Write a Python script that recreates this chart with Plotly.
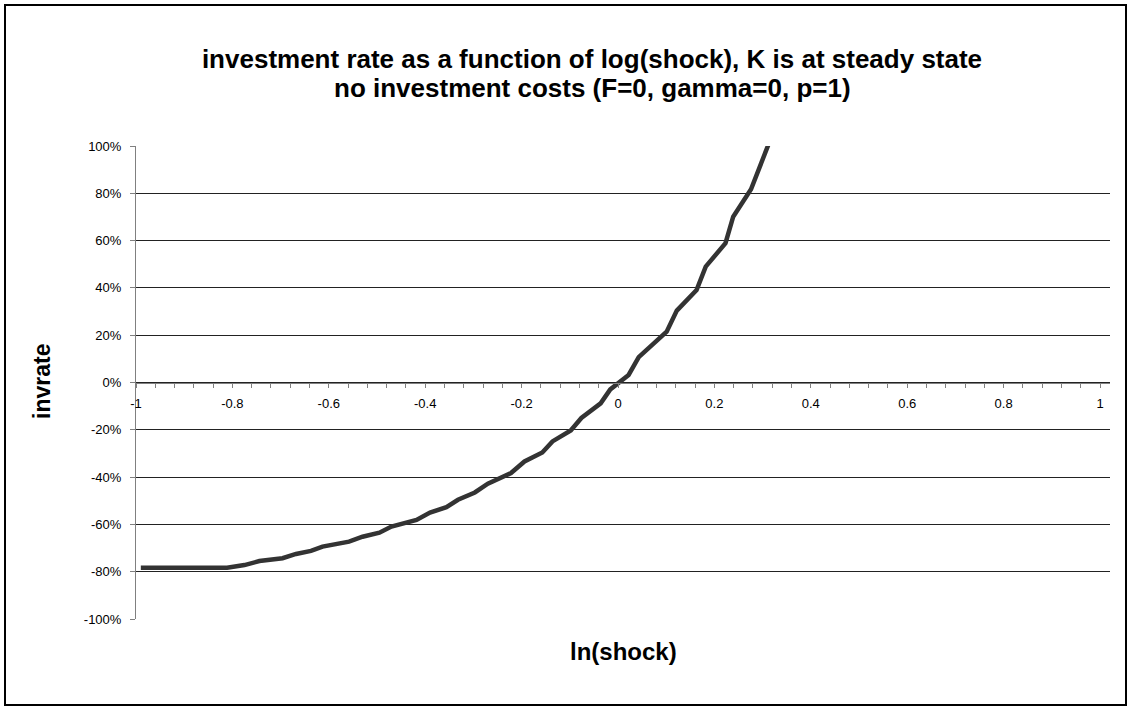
import plotly.graph_objects as go

# data
ln_shock = [-0.99, -0.811, -0.775, -0.744, -0.696, -0.668, -0.637, -0.613, -0.558, -0.530,
            -0.495, -0.470, -0.418, -0.390, -0.356, -0.332, -0.297, -0.270, -0.222, -0.194,
            -0.157, -0.136, -0.098, -0.076, -0.036, -0.016, 0.022, 0.043, 0.101, 0.122,
            0.163, 0.182, 0.223, 0.239, 0.276, 0.300, 0.330]
invrate = [-78.3, -78.3, -77.2, -75.5, -74.3, -72.5, -71.2, -69.4, -67.3, -65.2,
           -63.5, -60.9, -58.1, -55.0, -52.7, -49.6, -46.5, -42.8, -38.3, -33.4,
           -29.6, -24.9, -20.3, -15.0, -8.8, -2.9, 3.2, 10.7, 21.5, 30.4,
           39.1, 49.0, 58.9, 70.1, 81.7, 94.8, 110.0]

x_tickvals = [-1, -0.8, -0.6, -0.4, -0.2, 0, 0.2, 0.4, 0.6, 0.8, 1]
x_ticktext = ["-1", "-0.8", "-0.6", "-0.4", "-0.2", "0", "0.2", "0.4", "0.6", "0.8", "1"]
y_tickvals = [-100, -80, -60, -40, -20, 0, 20, 40, 60, 80, 100]
y_ticktext = ["-100%", "-80%", "-60%", "-40%", "-20%", "0%", "20%", "40%", "60%", "80%", "100%"]

title_line1 = "investment rate as a function of log(shock), K is at steady state"
title_line2 = "no investment costs (F=0, gamma=0, p=1)"

W, H = 1130, 709
ML, MR, MT, MB = 136, 20, 146, 90
PW = W - ML - MR
PH = H - MT - MB

def px_x(p):
    return (p - ML) / PW

def px_y(p):
    return (H - MB - p) / PH

FONT = "Liberation Sans, Arial, sans-serif"
TITLE_SIZE = 26

fig = go.Figure()
fig.add_trace(go.Scatter(
    x=ln_shock, y=invrate, mode="lines",
    line=dict(color="#333333", width=4.5),
    showlegend=False, hoverinfo="x+y",
))

fig.update_layout(
    width=W, height=H,
    margin=dict(l=ML, r=MR, t=MT, b=MB),
    paper_bgcolor="white", plot_bgcolor="white",
    font=dict(family=FONT, color="black"),
    title=dict(text=title_line1,
               font=dict(family=FONT, size=TITLE_SIZE, color="black", weight="bold"),
               xref="paper", x=px_x(592), xanchor="center",
               yref="container", y=1 - 59 / H, yanchor="middle"),
    xaxis=dict(
        range=[-1, 1 + 10 / 482], anchor="free", position=0.5,
        showgrid=False, zeroline=False,
        showline=True, linecolor="#808080", linewidth=1,
        tickmode="array", tickvals=x_tickvals, ticktext=x_ticktext,
        ticks="outside", ticklen=4, tickcolor="#808080", tickwidth=1,
        ticklabelstandoff=5,
        tickfont=dict(family=FONT, size=13, color="black"),
        minor=dict(tickmode="linear", tick0=-1, dtick=0.04, ticks="outside",
                   ticklen=4, tickcolor="#808080", showgrid=False),
    ),
    yaxis=dict(
        range=[-100, 100],
        showgrid=True, gridcolor="#222222", gridwidth=1,
        zeroline=False,
        showline=True, linecolor="#808080", linewidth=1,
        tickmode="array", tickvals=y_tickvals, ticktext=y_ticktext,
        ticks="outside", ticklen=5, tickcolor="#808080",
        ticklabelstandoff=6,
        tickfont=dict(family=FONT, size=13, color="black"),
    ),
    annotations=[
        dict(text=title_line2, xref="paper", yref="paper",
             x=px_x(592), y=px_y(88), xanchor="center", yanchor="middle",
             showarrow=False, font=dict(family=FONT, size=TITLE_SIZE, color="black", weight="bold")),
        dict(text="invrate", textangle=-90, xref="paper", yref="paper",
             x=px_x(42), y=px_y(382), xanchor="center", yanchor="middle",
             showarrow=False, font=dict(family=FONT, size=23, color="black", weight="bold")),
        dict(text="ln(shock)", xref="paper", yref="paper",
             x=px_x(623), y=px_y(651), xanchor="center", yanchor="middle",
             showarrow=False, font=dict(family=FONT, size=24, color="black", weight="bold")),
    ],
    shapes=[
        dict(type="rect", xref="paper", yref="paper",
             x0=px_x(5), x1=px_x(1126), y0=px_y(705), y1=px_y(5),
             line=dict(color="black", width=2), fillcolor="rgba(0,0,0,0)", layer="below"),
    ],
)

fig.write_html("out.html",
               config={"displayModeBar": False},
               post_script="document.body.style.margin='0px';document.body.style.overflow='hidden';")
